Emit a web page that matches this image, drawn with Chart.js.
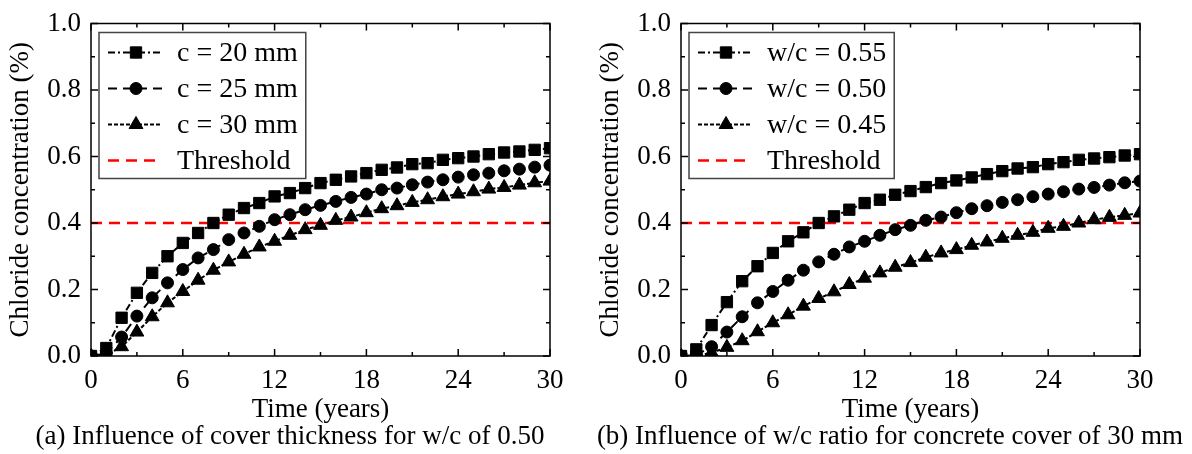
<!DOCTYPE html>
<html>
<head>
<meta charset="utf-8">
<script src="https://cdn.jsdelivr.net/npm/chart.js@4.4.0/dist/chart.umd.min.js"></script>
<style>
  html, body { margin: 0; padding: 0; background: #fff; }
  #wrap { position: relative; width: 1192px; height: 454px; }
  #chartA { position: absolute; left: 0; top: 0; }
  #chartB { position: absolute; left: 590px; top: 0; }
</style>
</head>
<body>
<div id="wrap">
  <canvas id="chartA" width="590" height="454"></canvas>
  <canvas id="chartB" width="602" height="454"></canvas>
</div>
<script>
// time axis (years)
const years = [0, 1, 2, 3, 4, 5, 6, 7, 8, 9, 10, 11, 12, 13, 14, 15, 16, 17, 18, 19, 20,
               21, 22, 23, 24, 25, 26, 27, 28, 29, 30];

// (a) cover thickness, w/c = 0.50
const cover20 = [0, 0.024, 0.115, 0.19, 0.25, 0.30, 0.34, 0.37, 0.40, 0.425, 0.445, 0.46, 0.48, 0.49, 0.505,
                 0.52, 0.53, 0.54, 0.55, 0.56, 0.567, 0.577, 0.58, 0.59, 0.595, 0.60, 0.607, 0.612, 0.615, 0.62, 0.625];
const cover25 = [0, 0.008, 0.057, 0.12, 0.175, 0.22, 0.26, 0.295, 0.32, 0.35, 0.37, 0.39, 0.41, 0.425, 0.44,
                 0.453, 0.465, 0.477, 0.487, 0.50, 0.505, 0.515, 0.523, 0.53, 0.538, 0.545, 0.55, 0.557, 0.562, 0.568, 0.574];
const cover30 = [0, 0.003, 0.028, 0.072, 0.118, 0.16, 0.194, 0.228, 0.258, 0.283, 0.306, 0.328, 0.345, 0.363, 0.38,
                 0.393, 0.408, 0.418, 0.431, 0.443, 0.452, 0.462, 0.47, 0.479, 0.487, 0.494, 0.502, 0.507, 0.514, 0.521, 0.526];

// (b) w/c ratio, cover = 30 mm
const wc055 = [0, 0.02, 0.093, 0.162, 0.225, 0.27, 0.31, 0.345, 0.372, 0.40, 0.42, 0.44, 0.46, 0.47, 0.485,
               0.496, 0.508, 0.52, 0.528, 0.537, 0.547, 0.556, 0.564, 0.568, 0.577, 0.583, 0.59, 0.594, 0.598, 0.603, 0.607];
const wc050 = [0, 0.003, 0.028, 0.072, 0.118, 0.16, 0.194, 0.228, 0.258, 0.283, 0.306, 0.328, 0.345, 0.363, 0.38,
               0.393, 0.408, 0.418, 0.431, 0.443, 0.452, 0.462, 0.47, 0.479, 0.487, 0.494, 0.502, 0.507, 0.514, 0.521, 0.526];
const wc045 = [0, 0, 0.01, 0.026, 0.046, 0.073, 0.10, 0.124, 0.15, 0.173, 0.193, 0.215, 0.234, 0.25, 0.267,
               0.281, 0.297, 0.31, 0.32, 0.333, 0.343, 0.354, 0.363, 0.372, 0.384, 0.39, 0.40, 0.41, 0.417, 0.423, 0.43];

const thresholdYears = [0, 30];
const thresholdValues = [0.4, 0.4];

const labelsA = ["c = 20 mm", "c = 25 mm", "c = 30 mm", "Threshold"];
const labelsB = ["w/c = 0.55", "w/c = 0.50", "w/c = 0.45", "Threshold"];
const captionA = "(a) Influence of cover thickness for w/c of 0.50";
const captionB = "(b) Influence of w/c ratio for concrete cover of 30 mm";

Chart.defaults.font.family = '"Liberation Serif", "DejaVu Serif", serif';
Chart.defaults.color = "#000";

const FONT = 27;
const LEGEND_FONT = 28;
const CAPTION_FONT = 27;

function pts(xs, ys) {
  return xs.map((x, i) => ({ x: x, y: ys[i] }));
}

function series(label, values, style, radius, dash) {
  return {
    label: label,
    data: pts(years, values),
    borderColor: "#000",
    backgroundColor: "#000",
    borderWidth: 2,
    borderDash: dash,
    pointStyle: style,
    pointRadius: radius,
    pointBorderWidth: 1,
    pointBackgroundColor: "#000",
    pointBorderColor: "#000",
    tension: 0
  };
}

function thresholdSet(label) {
  return {
    label: label,
    data: pts(thresholdYears, thresholdValues),
    borderColor: "#ff0000",
    borderWidth: 2.5,
    borderDash: [11, 7],
    pointRadius: 0,
    tension: 0
  };
}

// draw a marker like the chart does
function marker(ctx, style, r, x, y) {
  ctx.beginPath();
  if (style === "rect") {
    const s = Math.SQRT1_2 * r;
    ctx.rect(x - s, y - s, 2 * s, 2 * s);
  } else if (style === "triangle") {
    let a = 0;
    ctx.moveTo(x + Math.sin(a) * r, y - Math.cos(a) * r);
    a += 2 * Math.PI / 3;
    ctx.lineTo(x + Math.sin(a) * r, y - Math.cos(a) * r);
    a += 2 * Math.PI / 3;
    ctx.lineTo(x + Math.sin(a) * r, y - Math.cos(a) * r);
    ctx.closePath();
  } else {
    ctx.arc(x, y, r, 0, Math.PI * 2);
  }
  ctx.fill();
  ctx.stroke();
}

// frame around the plot with inward ticks on all four sides
const frameTicks = {
  id: "frameTicks",
  afterDatasetsDraw(chart) {
    const ctx = chart.ctx, a = chart.chartArea;
    const xs = chart.scales.x, ys = chart.scales.y;
    ctx.save();
    ctx.strokeStyle = "#000";
    ctx.lineWidth = 1.5;
    ctx.setLineDash([]);
    ctx.strokeRect(a.left, a.top, a.right - a.left, a.bottom - a.top);

    const xMaj = xs.ticks.map(t => t.value);
    const yMaj = ys.ticks.map(t => t.value);
    const mids = v => v.slice(1).map((t, i) => (t + v[i]) / 2);

    ctx.beginPath();
    const xTick = (v, len) => {
      const p = xs.getPixelForValue(v);
      ctx.moveTo(p, a.bottom); ctx.lineTo(p, a.bottom - len);
      ctx.moveTo(p, a.top); ctx.lineTo(p, a.top + len);
    };
    const yTick = (v, len) => {
      const p = ys.getPixelForValue(v);
      ctx.moveTo(a.left, p); ctx.lineTo(a.left + len, p);
      ctx.moveTo(a.right, p); ctx.lineTo(a.right - len, p);
    };
    xMaj.forEach(v => xTick(v, 7));
    mids(xMaj).forEach(v => xTick(v, 4));
    yMaj.forEach(v => yTick(v, 7));
    mids(yMaj).forEach(v => yTick(v, 4));
    ctx.stroke();
    ctx.restore();
  }
};

// boxed legend in the top-left corner of the plot
const boxLegend = {
  id: "boxLegend",
  afterDraw(chart) {
    const ctx = chart.ctx, a = chart.chartArea;
    const ds = chart.data.datasets;
    ctx.save();
    ctx.font = LEGEND_FONT + 'px "Liberation Serif", serif';
    const textW = Math.max(...ds.map(d => ctx.measureText(d.label).width));
    const left = a.left + 8, top = a.top + 9, rowH = 36;
    const w = 78 + textW + 8, h = 20 + rowH * (ds.length - 1) + 18;
    ctx.fillStyle = "#fff";
    ctx.fillRect(left, top, w, h);
    ctx.strokeStyle = "#444";
    ctx.lineWidth = 1.5;
    ctx.strokeRect(left, top, w, h);

    ds.forEach((d, i) => {
      const cy = top + 20 + i * rowH;
      ctx.strokeStyle = d.borderColor;
      ctx.lineWidth = d.borderWidth;
      ctx.setLineDash(d.borderDash || []);
      ctx.beginPath();
      ctx.moveTo(left + 9, cy);
      ctx.lineTo(left + 63, cy);
      ctx.stroke();
      ctx.setLineDash([]);
      if (d.pointRadius > 0) {
        ctx.fillStyle = "#000";
        ctx.strokeStyle = "#000";
        ctx.lineWidth = 1;
        marker(ctx, d.pointStyle, d.pointRadius, left + 37, cy);
      }
      ctx.fillStyle = "#000";
      ctx.textAlign = "left";
      ctx.textBaseline = "middle";
      ctx.fillText(d.label, left + 78, cy + 1);
    });
    ctx.restore();
  }
};

// sub-figure caption under the axis title
const caption = {
  id: "caption",
  afterDraw(chart, args, opts) {
    const ctx = chart.ctx;
    ctx.save();
    ctx.font = CAPTION_FONT + 'px "Liberation Serif", serif';
    ctx.fillStyle = "#000";
    ctx.textAlign = "center";
    ctx.textBaseline = "middle";
    ctx.fillText(opts.text, opts.center, 437);
    ctx.restore();
  }
};

function makeChart(id, sets, captionText, captionCenter, rightPad) {
  return new Chart(document.getElementById(id), {
    type: "line",
    data: { datasets: sets },
    plugins: [frameTicks, boxLegend, caption],
    options: {
      responsive: false,
      animation: false,
      layout: { padding: { top: 23, right: rightPad, left: 0, bottom: 0 } },
      plugins: {
        legend: { display: false },
        tooltip: { enabled: false },
        caption: { text: captionText, center: captionCenter }
      },
      scales: {
        x: {
          type: "linear",
          min: 0,
          max: 30,
          grid: { display: false, drawTicks: false },
          border: { display: false },
          ticks: { stepSize: 6, padding: 11, font: { size: FONT, lineHeight: 1 } },
          title: { display: true, text: "Time (years)", font: { size: FONT, lineHeight: 1 }, padding: { top: 0, bottom: 31 } },
          afterFit: s => { s.height = 98; }
        },
        y: {
          min: 0,
          max: 1,
          grid: { display: false, drawTicks: false },
          border: { display: false },
          ticks: { stepSize: 0.2, padding: 10, font: { size: FONT, lineHeight: 1 }, callback: v => v.toFixed(1) },
          title: { display: true, text: "Chloride concentration (%)", font: { size: FONT, lineHeight: 1 }, padding: { top: 7, bottom: 0 } },
          afterFit: s => { s.width = 91; }
        }
      }
    }
  });
}

makeChart("chartA", [
  series(labelsA[0], cover20, "rect", 8, [7, 3, 2, 3]),
  series(labelsA[1], cover25, "circle", 6, [9, 6]),
  series(labelsA[2], cover30, "triangle", 8, [4, 2]),
  thresholdSet(labelsA[3])
], captionA, 290, 40);

makeChart("chartB", [
  series(labelsB[0], wc055, "rect", 8, [7, 3, 2, 3]),
  series(labelsB[1], wc050, "circle", 6, [9, 6]),
  series(labelsB[2], wc045, "triangle", 8, [4, 2]),
  thresholdSet(labelsB[3])
], captionB, 300, 52);
</script>
</body>
</html>
